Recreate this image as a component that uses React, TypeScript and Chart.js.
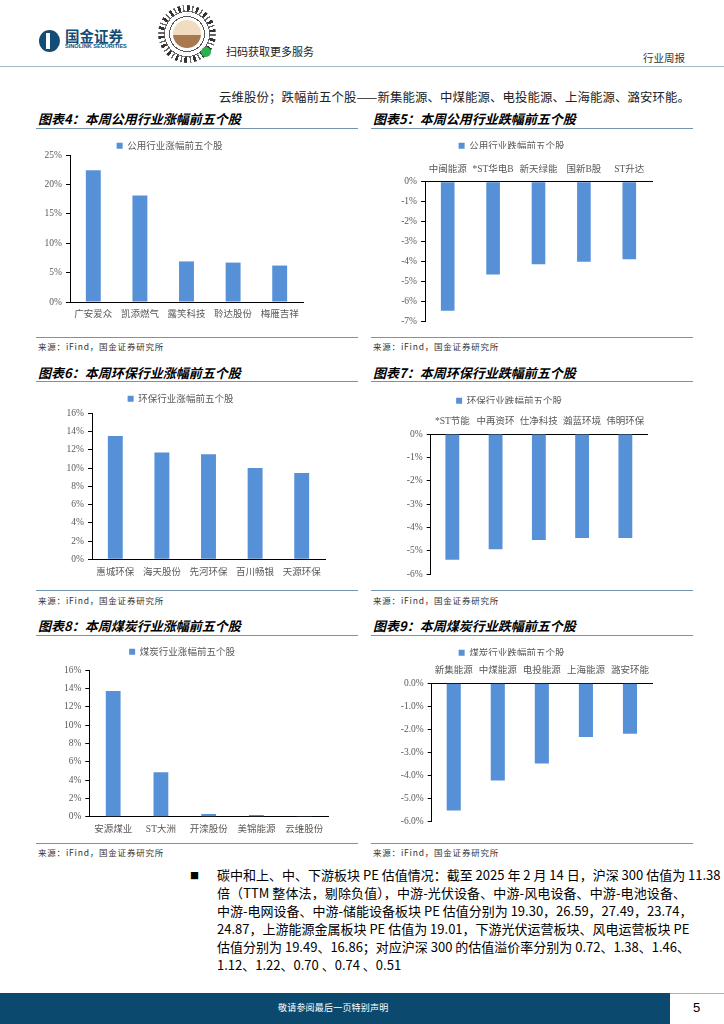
import React, { useEffect, useRef } from 'react';
import { Chart, registerables } from 'chart.js';

Chart.register(...registerables);

// ---------------- data ----------------
const utilUpCats = ['广安爱众', '凯添燃气', '露笑科技', '聆达股份', '梅雁吉祥'];
const utilUpVals = [22.4, 18.1, 6.9, 6.7, 6.2];
const utilDownCats = ['中闽能源', '*ST华电B', '新天绿能', '国新B股', 'ST升达'];
const utilDownVals = [-6.47, -4.65, -4.14, -4.01, -3.89];
const envUpCats = ['惠城环保', '海天股份', '先河环保', '百川畅银', '天源环保'];
const envUpVals = [13.5, 11.7, 11.5, 10.0, 9.46];
const envDownCats = ['*ST节能', '中再资环', '仕净科技', '瀚蓝环境', '伟明环保'];
const envDownVals = [-5.38, -4.93, -4.53, -4.45, -4.45];
const coalUpCats = ['安源煤业', 'ST大洲', '开滦股份', '美锦能源', '云维股份'];
const coalUpVals = [13.7, 4.84, 0.3, 0.18, 0.02];
const coalDownCats = ['新集能源', '中煤能源', '电投能源', '上海能源', '潞安环能'];
const coalDownVals = [-5.53, -4.23, -3.49, -2.33, -2.19];

const utilUpTicks = [0, 25, 5];
const utilDownTicks = [-7, 0, 1];
const envUpTicks = [0, 16, 2];
const envDownTicks = [-6, 0, 1];
const coalUpTicks = [0, 16, 2];
const coalDownTicks = [-6, 0, 1];

const paraLines = [
  '碳中和上、中、下游板块 PE 估值情况：截至 2025 年 2 月 14 日，沪深 300 估值为 11.38',
  '倍（TTM 整体法，剔除负值），中游-光伏设备、中游-风电设备、中游-电池设备、',
  '中游-电网设备、中游-储能设备板块 PE 估值分别为 19.30，26.59，27.49，23.74，',
  '24.87，上游能源金属板块 PE 估值为 19.01，下游光伏运营板块、风电运营板块 PE',
  '估值分别为 19.49、16.86；对应沪深 300 的估值溢价率分别为 0.72、1.38、1.46、',
  '1.12、1.22、0.70 、0.74 、0.51',
];

// ---------------- style ----------------
const FONT_CJK = '"Noto Sans CJK SC", sans-serif';
const FONT_MIX = '"Liberation Serif", "Noto Sans CJK SC", serif';
const BAR = '#5690d6';
const LABEL = '#595959';
const RULE = '#7096b0';
const NAVY = '#0b4a6e';

type Geo = {
  cx: number; L: number; T: number; B: number; axisX: number; right: number; legendCX: number; neg: boolean;
};

function BarBlock(props: {
  geo: Geo; cats: string[]; vals: number[]; label: string; ticks: number[]; dec: number; barPct: number;
}) {
  const ref = useRef<HTMLCanvasElement>(null);
  const g = props.geo;
  const p = 4;
  const fs = 9.5;
  const itemH = 9.5;
  const cy = Math.round(g.L - p - itemH / 2);
  const cx = g.cx;
  const padR = Math.max(0, Math.round(2 * g.legendCX - cx - g.right));
  const cw = Math.round(g.right - cx) + padR;
  let legendMax = 0;
  let spacer = 0;
  let xH = 0;
  let padB = 0;
  let ch = 0;
  if (!g.neg) {
    const gap = g.T - cy;
    const natural = itemH + p + 10;
    if (gap <= natural) legendMax = gap;
    else { legendMax = natural; spacer = gap - natural; }
    ch = Math.round(g.B - cy) + 24;
    xH = ch - (g.B - cy);
    padB = 0;
  } else {
    legendMax = 12;
    xH = g.T - cy - 12;
    padB = 8;
    ch = Math.round(g.B - cy) + padB;
  }
  const yW = g.axisX - cx;

  useEffect(() => {
    const chart = new Chart(ref.current as HTMLCanvasElement, {
      type: 'bar',
      data: {
        labels: props.cats,
        datasets: [{
          label: props.label,
          data: props.vals,
          backgroundColor: BAR,
          borderWidth: 0,
          barPercentage: props.barPct,
          categoryPercentage: 1,
        }],
      },
      options: {
        animation: false,
        responsive: false,
        maintainAspectRatio: false,
        layout: { padding: { left: 0, right: padR, top: 0, bottom: padB } },
        plugins: {
          legend: {
            display: true,
            position: 'top',
            align: 'center',
            maxHeight: legendMax,
            labels: {
              boxWidth: 6,
              boxHeight: 6,
              padding: p,
              color: LABEL,
              font: { size: fs, family: FONT_CJK },
            },
          },
          subtitle: {
            display: spacer > 0,
            text: '',
            position: 'top',
            weight: 500,
            padding: 0,
            font: { size: Math.max(spacer, 0.1), lineHeight: 1 },
          },
          tooltip: { enabled: false },
        },
        scales: {
          x: {
            position: g.neg ? 'top' : 'bottom',
            offset: true,
            grid: { display: false, drawTicks: false },
            border: { display: true, color: '#000', width: 1 },
            ticks: {
              autoSkip: false,
              maxRotation: 0,
              minRotation: 0,
              padding: 7,
              color: LABEL,
              font: { size: fs, family: FONT_MIX },
            },
            afterFit: (s: any) => { s.height = xH; },
          },
          y: {
            min: props.ticks[0],
            max: props.ticks[1],
            ticks: {
              stepSize: props.ticks[2],
              padding: 4,
              color: LABEL,
              font: { size: 9.5, family: FONT_MIX },
              callback: (v: any) => Number(v).toFixed(props.dec) + '%',
            },
            grid: { display: true, drawOnChartArea: false, drawTicks: true, tickLength: 4, color: '#000' },
            border: { display: true, color: '#000', width: 1 },
            afterFit: (s: any) => { s.width = yW; },
          },
        },
      } as any,
    });
    return () => chart.destroy();
  }, []);

  return (
    <canvas
      ref={ref}
      width={cw}
      height={ch}
      style={{ position: 'absolute', left: cx, top: cy, width: cw, height: ch }}
    />
  );
}

function Txt(props: { x: number; c: number; size: number; children: any; style?: any }) {
  return (
    <div
      style={{
        position: 'absolute',
        left: props.x,
        top: props.c - props.size * 0.55,
        fontSize: props.size,
        lineHeight: 1,
        whiteSpace: 'nowrap',
        fontFamily: FONT_CJK,
        color: '#222',
        ...(props.style || {}),
      }}
    >
      {props.children}
    </div>
  );
}

function Rule(props: { x: number; y: number; w: number; color?: string; h?: number }) {
  return (
    <div
      style={{
        position: 'absolute', left: props.x, top: props.y, width: props.w, height: props.h || 1,
        background: props.color || RULE,
      }}
    />
  );
}

const rows = [
  { titleC: 119, rule: 128, bottom: 337, srcC: 347 },
  { titleC: 373.3, rule: 381, bottom: 590, srcC: 600.7 },
  { titleC: 625.7, rule: 635, bottom: 843, srcC: 853 },
];
const cols = [{ x: 36, w: 322 }, { x: 371, w: 322 }];
const titles = [
  ['图表4：本周公用行业涨幅前五个股', '图表5：本周公用行业跌幅前五个股'],
  ['图表6：本周环保行业涨幅前五个股', '图表7：本周环保行业跌幅前五个股'],
  ['图表8：本周煤炭行业涨幅前五个股', '图表9：本周煤炭行业跌幅前五个股'],
];
const SRC = '来源：iFind，国金证券研究所';

export default function App() {
  return (
    <div
      style={{
        position: 'absolute', left: 0, top: 0, width: 724, height: 1024, overflow: 'hidden',
        background: '#fff', fontFamily: FONT_CJK,
      }}
    >
      {/* header */}
      <div style={{ position: 'absolute', left: 39, top: 30, width: 21, height: 22, borderRadius: '50%', background: '#134d77' }} />
      <div style={{ position: 'absolute', left: 46, top: 33, width: 4, height: 16, background: '#fff' }} />
      <Txt x={65} c={37} size={14.5} style={{ fontWeight: 700, color: '#134d77' }}>国金证券</Txt>
      <Txt x={65} c={47.5} size={5.6} style={{ fontWeight: 700, color: '#134d77', fontFamily: '"Liberation Sans", sans-serif' }}>SINOLINK SECURITIES</Txt>
      <div
        style={{
          position: 'absolute', left: 158, top: 5, width: 58, height: 58, borderRadius: '50%',
          background: 'repeating-conic-gradient(#333 0deg 6deg, #fff 6deg 11deg, #666 11deg 14deg, #fff 14deg 20deg)',
        }}
      />
      <div style={{ position: 'absolute', left: 164, top: 11, width: 46, height: 46, borderRadius: '50%', background: 'repeating-radial-gradient(circle, #fff 0 2px, #555 2px 3px, #fff 3px 5px)' }} />
      <div style={{ position: 'absolute', left: 173, top: 20, width: 28, height: 28, borderRadius: '50%', background: 'linear-gradient(#f1dcc0 0 55%, #a8784e 55% 100%)' }} />
      <div style={{ position: 'absolute', left: 201, top: 47, width: 10, height: 10, borderRadius: '50%', background: '#2bb24c' }} />
      <Txt x={226} c={52.5} size={11} style={{ color: '#222' }}>扫码获取更多服务</Txt>
      <Txt x={643} c={59} size={10.5} style={{ color: '#333' }}>行业周报</Txt>
      <Rule x={0} y={66} w={724} color="#a3b8c6" />

      <div
        style={{
          position: 'absolute', left: 219, top: 97 - 9, width: 471, height: 18, lineHeight: '18px',
          fontSize: 12.4, color: '#222', textAlign: 'justify', textAlignLast: 'justify' as any, whiteSpace: 'nowrap',
        }}
      >
        云维股份；跌幅前五个股——新集能源、中煤能源、电投能源、上海能源、潞安环能。
      </div>

      {/* section frames */}
      {rows.map((r, ri) =>
        cols.map((c, ci) => (
          <React.Fragment key={ri + '-' + ci}>
            <Txt x={c.x + 2} c={r.titleC} size={13} style={{ fontWeight: 700, fontStyle: 'italic', color: '#000' }}>
              {titles[ri][ci]}
            </Txt>
            <Rule x={c.x} y={r.rule} w={c.w} h={1.2} />
            <Rule x={c.x} y={r.bottom} w={c.w} />
            <Txt x={c.x + 2} c={r.srcC} size={8.5} style={{ color: '#333', letterSpacing: 0.8 }}>{SRC}</Txt>
          </React.Fragment>
        ))
      )}

      {/* charts */}
      <BarBlock
        geo={{ cx: 36, L: 146, T: 155, B: 302, axisX: 70, right: 303, legendCX: 174.5, neg: false }}
        cats={utilUpCats} vals={utilUpVals} label="公用行业涨幅前五个股" ticks={utilUpTicks} dec={0} barPct={0.32}
      />
      <BarBlock
        geo={{ cx: 371, L: 146, T: 181.7, B: 323, axisX: 425, right: 652, legendCX: 531.5, neg: true }}
        cats={utilDownCats} vals={utilDownVals} label="公用行业跌幅前五个股" ticks={utilDownTicks} dec={0} barPct={0.3}
      />
      <BarBlock
        geo={{ cx: 36, L: 399, T: 413.3, B: 559.3, axisX: 92, right: 325, legendCX: 196.5, neg: false }}
        cats={envUpCats} vals={envUpVals} label="环保行业涨幅前五个股" ticks={envUpTicks} dec={0} barPct={0.32}
      />
      <BarBlock
        geo={{ cx: 371, L: 401, T: 434, B: 575.7, axisX: 430.7, right: 646.7, legendCX: 534.8, neg: true }}
        cats={envDownCats} vals={envDownVals} label="环保行业跌幅前五个股" ticks={envDownTicks} dec={0} barPct={0.32}
      />
      <BarBlock
        geo={{ cx: 36, L: 651.7, T: 670, B: 816.7, axisX: 89.3, right: 328, legendCX: 197, neg: false }}
        cats={coalUpCats} vals={coalUpVals} label="煤炭行业涨幅前五个股" ticks={coalUpTicks} dec={0} barPct={0.31}
      />
      <BarBlock
        geo={{ cx: 371, L: 652.3, T: 683.3, B: 823.3, axisX: 431.7, right: 652, legendCX: 531.7, neg: true }}
        cats={coalDownCats} vals={coalDownVals} label="煤炭行业跌幅前五个股" ticks={coalDownTicks} dec={1} barPct={0.32}
      />

      {/* paragraph */}
      <Txt x={190} c={876} size={9} style={{ color: '#000' }}>■</Txt>
      {paraLines.map((ln, i) => (
        <div
          key={i}
          style={{
            position: 'absolute', left: 217, top: 876 + i * 17.9 - 9.7, width: 469, height: 18,
            lineHeight: '18px', fontSize: 13, color: '#000', whiteSpace: 'nowrap',
            textAlign: i < paraLines.length - 1 ? 'justify' : 'left',
            textAlignLast: (i < paraLines.length - 1 ? 'justify' : 'left') as any,
          }}
        >
          {ln}
        </div>
      ))}

      {/* footer */}
      <div style={{ position: 'absolute', left: 0, top: 993, width: 670, height: 31, background: NAVY }} />
      <Rule x={670} y={993} w={54} color="#9fb5c4" />
      <Txt x={278} c={1008} size={9} style={{ color: '#fff', letterSpacing: 0.2 }}>敬请参阅最后一页特别声明</Txt>
      <Txt x={693} c={1008} size={13} style={{ color: '#000', fontFamily: '"Liberation Sans", sans-serif' }}>5</Txt>
    </div>
  );
}
